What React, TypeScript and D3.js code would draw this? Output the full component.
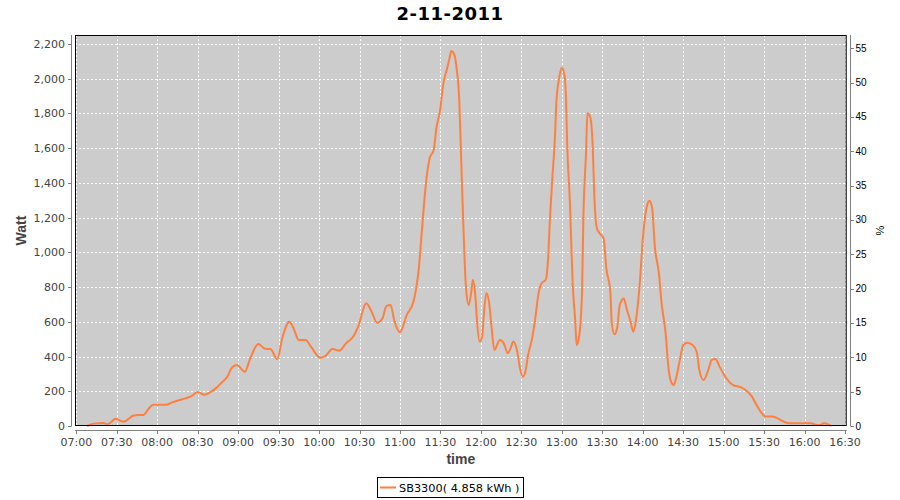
import React from "react";
import * as d3 from "d3";

const title = "2-11-2011";
const legendLabel = "SB3300( 4.858 kWh )";
const xLabel = "time";
const yLabel = "Watt";
const y2Label = "%";

const times = [
  "07:08","07:14","07:20","07:23","07:26","07:29","07:32","07:35","07:39","07:42",
  "07:46","07:50","07:52","07:55","07:57","08:07","08:11","08:16","08:21","08:26",
  "08:30","08:35","08:40","08:44","08:48","08:52","08:55","08:59","09:05","09:09",
  "09:15","09:20","09:24","09:29","09:33","09:38","09:41","09:45","09:50","09:54",
  "10:01","10:04","10:10","10:15","10:20","10:26","10:29","10:35","10:39","10:43",
  "10:47","10:50","10:53","10:56","11:00","11:05","11:10","11:12","11:14","11:16",
  "11:18","11:20","11:22","11:25","11:27","11:30","11:32","11:35","11:37","11:38",
  "11:40","11:42","11:44","11:45","11:46","11:47","11:48","11:49","11:51","11:53",
  "11:54","11:56","11:57","11:59","12:01","12:02","12:04","12:06","12:08","12:10",
  "12:14","12:17","12:20","12:22","12:24","12:27","12:29","12:31","12:33","12:35",
  "12:38","12:40","12:43","12:45","12:48","12:50","12:51","12:53","12:55","12:56",
  "12:58","13:00","13:02","13:03","13:04","13:06","13:08","13:10","13:11","13:13",
  "13:15","13:16","13:18","13:19","13:21","13:23","13:24","13:26","13:28","13:31",
  "13:33","13:36","13:37","13:39","13:41","13:43","13:46","13:48","13:51","13:53",
  "13:55","13:58","14:00","14:03","14:05","14:07","14:09","14:12","14:14","14:17",
  "14:19","14:21","14:23","14:25","14:28","14:30","14:33","14:37","14:40","14:42",
  "14:45","14:49","14:51","14:54","14:57","15:02","15:07","15:13","15:17","15:21",
  "15:24","15:28","15:31","15:36","15:39","15:43","15:48","15:59","16:05","16:09",
  "16:12","16:14","16:18","16:20"
];

const watts = [
  0,15,17,10,23,42,33,25,42,59,
  63,63,82,111,123,123,136,148,159,175,
  196,180,198,221,252,284,332,351,313,390,
  472,445,443,385,514,601,565,495,495,457,
  393,399,443,434,476,522,572,707,658,595,
  620,691,697,601,540,639,716,793,908,1100,
  1292,1446,1542,1590,1715,1830,1964,2060,2127,2160,
  2146,2060,1868,1637,1388,1158,946,793,697,780,
  841,740,620,486,514,620,764,716,563,438,
  495,476,419,447,486,428,332,284,313,409,
  505,601,774,822,841,985,1158,1427,1676,1868,
  2002,2064,2021,1906,1618,1292,831,601,466,524,
  774,1196,1580,1801,1781,1599,1349,1139,1110,1081,
  908,774,601,528,563,697,735,678,601,543,
  610,841,1071,1263,1298,1254,1033,879,707,534,
  342,255,236,284,399,466,480,466,428,322,
  265,332,380,386,342,275,236,223,203,169,
  127,77,54,54,48,31,16,16,16,6,
  6,16,8,0
];

const xTickLabels = ["07:00","07:30","08:00","08:30","09:00","09:30","10:00","10:30","11:00","11:30","12:00","12:30","13:00","13:30","14:00","14:30","15:00","15:30","16:00","16:30"];
const yTicks = [0,200,400,600,800,1000,1200,1400,1600,1800,2000,2200];
const y2Ticks = [0,5,10,15,20,25,30,35,40,45,50,55];

const toMin = (s: string) => {
  const [h, m] = s.split(":").map(Number);
  return h * 60 + m;
};

export default function App() {
  const W = 900, H = 500;
  const left = 75, right = 846.7, top = 35, bottom = 426;

  const x = d3.scaleLinear().domain([419.04, 991.26]).range([left, right]);
  const y = d3.scaleLinear().domain([0, 2252]).range([bottom, top]);
  const y2 = d3.scaleLinear().domain([0, 56.94]).range([bottom, top]);

  const data = times.map((t, i) => ({ t: toMin(t), v: watts[i] }));
  const line = d3.line<{ t: number; v: number }>()
    .x(d => x(d.t))
    .y(d => y(d.v))
    .curve(d3.curveMonotoneX);

  const tickColor = "#444444";
  const axisColor = "#808080";
  const f = d3.format(",");

  return (
    <svg width={W} height={H} style={{ position: "absolute", left: 0, top: 0, background: "#fff" }}>
      <text x={450} y={20} textAnchor="middle" fontFamily="DejaVu Sans" fontWeight="bold" fontSize={18} letterSpacing={0.5} fill="#000">{title}</text>

      <rect x={left} y={top} width={right - left} height={bottom - top} fill="#CCCCCC" />

      {yTicks.map(v => (
        <line key={"gy" + v} x1={left} x2={right} y1={Math.round(y(v)) + 0.5} y2={Math.round(y(v)) + 0.5}
          stroke="#fff" strokeWidth={1} strokeDasharray="2,2" />
      ))}
      {xTickLabels.map(s => (
        <line key={"gx" + s} x1={Math.round(x(toMin(s))) + 0.5} x2={Math.round(x(toMin(s))) + 0.5} y1={top} y2={bottom}
          stroke="#fff" strokeWidth={1} strokeDasharray="2,2" />
      ))}

      <path d={line(data) || ""} fill="none" stroke="#FF7F3F" strokeWidth={2} strokeLinejoin="round" />

      <rect x={left + 0.5} y={top + 0.5} width={right - left - 1} height={bottom - top - 1} fill="none" stroke="#000" strokeWidth={1} />

      {/* left axis */}
      <line x1={71.5} x2={71.5} y1={top} y2={bottom} stroke={axisColor} strokeWidth={1} />
      {yTicks.map(v => (
        <g key={"ly" + v}>
          <line x1={68} x2={71.5} y1={Math.round(y(v)) + 0.5} y2={Math.round(y(v)) + 0.5} stroke={axisColor} />
          <text x={65} y={y(v) + 4} textAnchor="end" fontFamily="DejaVu Sans" fontSize={11} fill={tickColor}>{f(v)}</text>
        </g>
      ))}
      <text transform={`translate(26,${(top + bottom) / 2}) rotate(-90)`} textAnchor="middle" fontFamily="Liberation Sans" fontWeight="bold" fontSize={14} fill={tickColor}>{yLabel}</text>

      {/* right axis */}
      <line x1={850.5} x2={850.5} y1={top} y2={bottom} stroke={axisColor} strokeWidth={1} />
      {y2Ticks.map(v => (
        <g key={"ry" + v}>
          <line x1={850.5} x2={854} y1={Math.round(y2(v)) + 0.5} y2={Math.round(y2(v)) + 0.5} stroke={axisColor} />
          <text x={855.5} y={y2(v) + 3.5} textAnchor="start" fontFamily="Liberation Sans" fontSize={10} fill="#000">{v}</text>
        </g>
      ))}
      <text transform={`translate(884,${(top + bottom) / 2}) rotate(-90)`} textAnchor="middle" fontFamily="Liberation Sans" fontSize={11} fill="#000">{y2Label}</text>

      {/* bottom axis */}
      <line x1={left} x2={right} y1={430.5} y2={430.5} stroke={axisColor} strokeWidth={1} />
      {xTickLabels.map(s => (
        <g key={"bx" + s}>
          <line x1={Math.round(x(toMin(s))) + 0.5} x2={Math.round(x(toMin(s))) + 0.5} y1={430.5} y2={434} stroke={axisColor} />
          <text x={x(toMin(s))} y={446} textAnchor="middle" fontFamily="DejaVu Sans" fontSize={11} fill={tickColor}>{s}</text>
        </g>
      ))}
      <text x={(left + right) / 2} y={464} textAnchor="middle" fontFamily="Liberation Sans" fontWeight="bold" fontSize={14} fill={tickColor}>{xLabel}</text>

      {/* legend */}
      <rect x={377.5} y={477.5} width={146} height={20} fill="#fff" stroke="#000" strokeWidth={1} />
      <line x1={380} x2={396} y1={487.5} y2={487.5} stroke="#FF7F3F" strokeWidth={2} />
      <text x={399} y={492} fontFamily="DejaVu Sans" fontSize={11.3} fill="#000">{legendLabel}</text>
    </svg>
  );
}
